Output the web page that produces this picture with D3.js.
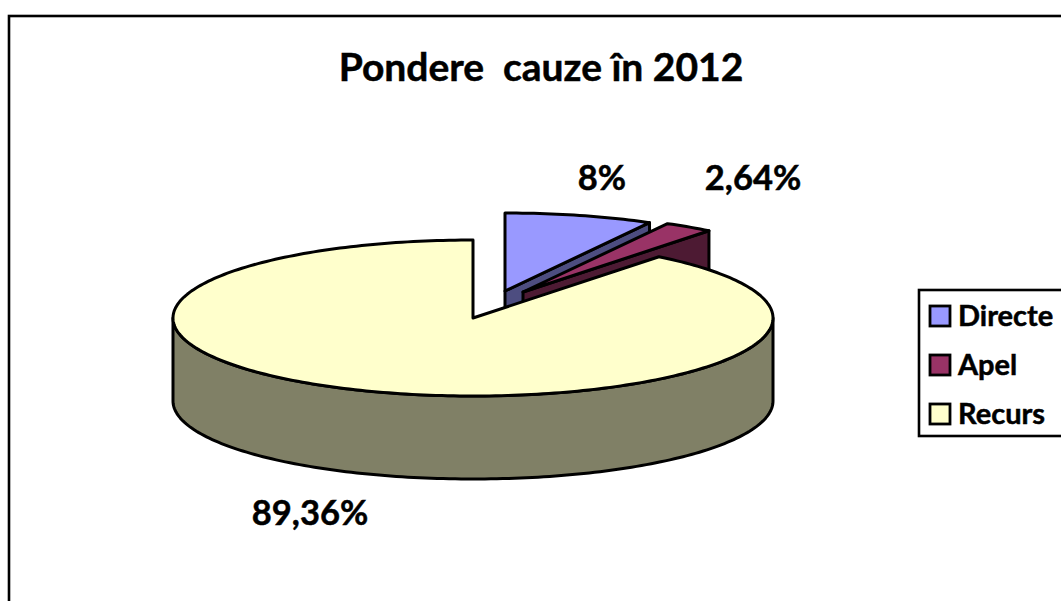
<!DOCTYPE html>
<html>
<head>
<meta charset="utf-8">
<script src="https://cdn.jsdelivr.net/npm/d3@7"></script>
<style>
body { margin: 0; background: #fff; overflow: hidden; }
text { font-family: Lato, "Open Sans", sans-serif; font-weight: 700; fill: #000; stroke: #000; stroke-width: 0.5px; white-space: pre; }
</style>
</head>
<body>
<svg></svg>
<script>
var title = "Pondere  cauze în 2012";
var categories = ["Directe", "Apel", "Recurs"];
var values = [8, 2.64, 89.36];
var valueLabels = ["8%", "2,64%", "89,36%"];

var topColors = ["#9999ff", "#993366", "#ffffcc"];
var sideColors = ["#4d4d80", "#4d1a33", "#808066"];

var width = 1061;
var height = 601;
var cx = 473, cy = 318, rx = 300, ry = 78, depth = 83;

// how far each slice is pulled out of the pie
var explode = [[32, -27], [50, -26], [0, 0]];
var labelPos = [[602, 190], [753, 190], [310, 525]];

var svg = d3.select("svg")
  .attr("width", width)
  .attr("height", height);

// outer frame runs off the page on the right and bottom
svg.append("rect")
  .attr("x", 9)
  .attr("y", 16)
  .attr("width", width + 20)
  .attr("height", height + 20)
  .attr("fill", "#fff")
  .attr("stroke", "#000")
  .attr("stroke-width", 2.6);

svg.append("text")
  .attr("x", 541)
  .attr("y", 81)
  .attr("text-anchor", "middle")
  .attr("font-size", 39)
  .text(title);

var slices = d3.pie().sort(null)(values);

var ellipseX = d3.scaleLinear().domain([-1, 1]).range([cx - rx, cx + rx]);
var ellipseY = d3.scaleLinear().domain([-1, 1]).range([cy - ry, cy + ry]);

var line = d3.line();

function pt(a, i, dy) {
  return [ellipseX(Math.sin(a)) + explode[i][0], ellipseY(-Math.cos(a)) + explode[i][1] + (dy || 0)];
}

function arcPts(a0, a1, i, dy) {
  var n = Math.max(2, Math.ceil(Math.abs(a1 - a0) / 0.02));
  return d3.range(n + 1).map(function(k) {
    return pt(a0 + (a1 - a0) * k / n, i, dy);
  });
}

function centre(i, dy) {
  return [cx + explode[i][0], cy + explode[i][1] + (dy || 0)];
}

var g = svg.append("g")
  .attr("stroke", "#000")
  .attr("stroke-width", 3)
  .attr("stroke-linejoin", "round");

// painter's order: far slices first, the big slice covers their lower parts
slices.forEach(function(s) {
  var i = s.index;
  if (i < 2) {
    // cut face along the end angle
    g.append("path")
      .attr("fill", sideColors[i])
      .attr("d", line([centre(i), pt(s.endAngle, i), pt(s.endAngle, i, depth), centre(i, depth)]) + "Z");
  } else {
    // visible front wall of the rim
    var front = arcPts(Math.PI / 2, 3 * Math.PI / 2, i);
    var back = arcPts(3 * Math.PI / 2, Math.PI / 2, i, depth);
    g.append("path")
      .attr("fill", sideColors[i])
      .attr("d", line(front.concat(back)) + "Z");
  }
  g.append("path")
    .attr("fill", topColors[i])
    .attr("d", line([centre(i)].concat(arcPts(s.startAngle, s.endAngle, i))) + "Z");
});

svg.selectAll("text.value")
  .data(valueLabels)
  .enter()
  .append("text")
  .attr("class", "value")
  .attr("x", function(d, i) { return labelPos[i][0]; })
  .attr("y", function(d, i) { return labelPos[i][1]; })
  .attr("text-anchor", "middle")
  .attr("font-size", 34.5)
  .text(function(d) { return d; });

// legend
var legend = svg.append("g");
legend.append("rect")
  .attr("x", 919)
  .attr("y", 290)
  .attr("width", 170)
  .attr("height", 146)
  .attr("fill", "#fff")
  .attr("stroke", "#000")
  .attr("stroke-width", 2.6);

var legendY = d3.scalePoint().domain(categories).range([316, 414]);

legend.selectAll("rect.key")
  .data(categories)
  .enter()
  .append("rect")
  .attr("class", "key")
  .attr("x", 930)
  .attr("y", function(d) { return legendY(d) - 10; })
  .attr("width", 20)
  .attr("height", 20)
  .attr("fill", function(d, i) { return topColors[i]; })
  .attr("stroke", "#000")
  .attr("stroke-width", 2.8);

legend.selectAll("text")
  .data(categories)
  .enter()
  .append("text")
  .attr("x", 958)
  .attr("y", function(d) { return legendY(d) + 10; })
  .attr("font-size", 29)
  .text(function(d) { return d; });
</script>
</body>
</html>
